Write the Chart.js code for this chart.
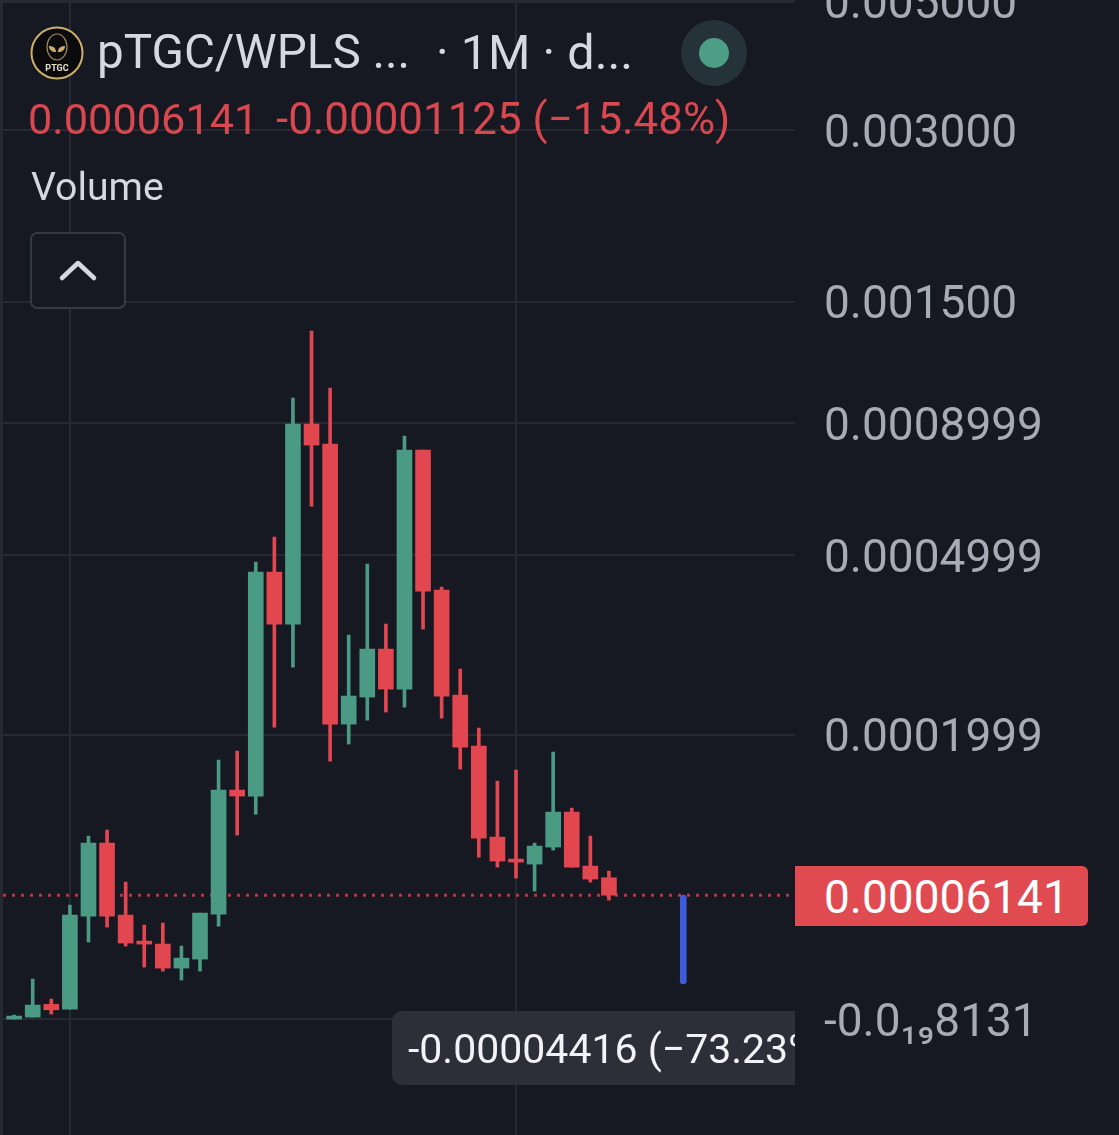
<!DOCTYPE html>
<html>
<head>
<meta charset="utf-8">
<script src="https://cdn.jsdelivr.net/npm/chart.js@4/dist/chart.umd.js"></script>
<style>
  html, body { margin: 0; padding: 0; background: #161822; }
  #wrap { position: relative; width: 1119px; height: 1135px; overflow: hidden; font-family: Roboto, sans-serif; }
  canvas { position: absolute; left: 0; top: 0; }
  .abs { position: absolute; white-space: pre; line-height: 1; }
</style>
</head>
<body>
<div id="wrap">
  <canvas id="chart" width="1119" height="1135"></canvas>
  <div class="abs" style="left:0;top:0;width:795px;height:3px;background:#262932"></div>
  <div class="abs" style="left:0;top:0;width:3px;height:1135px;background:#262932"></div>

  <svg class="abs" style="left:30px;top:26px" width="54" height="54" viewBox="0 0 54 54">
    <circle cx="27" cy="27" r="25.5" fill="#0b0b0d" stroke="#cdb06a" stroke-width="2"/>
    <ellipse cx="27" cy="21" rx="10" ry="13" fill="none" stroke="#9c8a5c" stroke-width="1.2"/>
    <path d="M19 20c4 0 7 2 7 6-4 0-7-2-7-6zM35 20c-4 0-7 2-7 6 4 0 7-2 7-6z" fill="#cdb06a"/>
    <text x="27" y="45" text-anchor="middle" font-family="Roboto" font-weight="700" font-size="9" fill="#e8e2cc">PTGC</text>
  </svg>
  <div class="abs" style="left:97px;top:29px;font-size:47.6px;color:#d5d8e2">pTGC/WPLS ...</div>
  <div class="abs" style="left:436px;top:29px;font-size:48.6px;color:#d5d8e2">· 1M · d...</div>
  <svg class="abs" style="left:681px;top:20px" width="66" height="66">
    <circle cx="33" cy="33" r="33" fill="#25323a"/>
    <circle cx="33" cy="33" r="15" fill="#4c9e85"/>
  </svg>
  <div class="abs" style="left:28px;top:98px;font-size:43.3px;color:#d9474f">0.00006141</div>
  <div class="abs" style="left:276px;top:98px;font-size:43.9px;color:#d9474f">-0.00001125 (−15.48%)</div>
  <div class="abs" style="left:31px;top:168px;font-size:39.2px;color:#d5d8e2">Volume</div>
  <div class="abs" style="left:30px;top:232px;width:92px;height:73px;border:2px solid #363a45;border-radius:7px;background:#161822"></div>
  <svg class="abs" style="left:58px;top:258px" width="40" height="24">
    <path d="M4 20 L20 5 L36 20" fill="none" stroke="#d5d8e2" stroke-width="4.5" stroke-linecap="round" stroke-linejoin="round"/>
  </svg>

  <div class="abs" style="left:795px;top:866px;width:293px;height:60px;background:#e04b52;border-radius:0 6px 6px 0"></div>
  <div class="abs" style="left:824px;top:874px;font-size:46px;color:#ffffff">0.00006141</div>
  <div class="abs" style="left:392px;top:1011px;width:403px;height:74px;background:#2c2e38;border-radius:10px 0 0 10px;overflow:hidden">
    <div class="abs" style="left:16px;top:18px;font-size:41px;color:#f2f3f6">-0.00004416 (−73.23%)</div>
  </div>
</div>
<script>
// monthly candles
const candleIndex = [0,1,2,3,4,5,6,7,8,9,10,11,12,13,14,15,16,17,18,19,20,21,22,23,24,25,26,27,28,29,30,31,32];
const opens = [0.00000001,0.00000078,0.00000585,0.00000394,0.00004888,0.00009739,0.00004946,0.00003517,0.00003362,0.00002178,0.00002609,0.00005004,0.00014228,0.00013672,0.00046250,0.00036011,0.00089652,0.00082239,0.00021265,0.00024701,0.00031774,0.00025791,0.00080124,0.00042471,0.00024970,0.00018717,0.00010202,0.00008556,0.00008201,0.00009437,0.00012251,0.00008061,0.00007266];
const highs = [0.00000156,0.00001671,0.00000804,0.00005535,0.00010281,0.00010758,0.00006979,0.00004380,0.00004491,0.00003259,0.00005062,0.00017204,0.00018166,0.00048462,0.00054392,0.00100176,0.00132735,0.00104523,0.00034097,0.00048013,0.00036011,0.00085134,0.00080124,0.00043079,0.00028667,0.00020784,0.00015083,0.00016172,0.00009739,0.00018058,0.00012598,0.00010281,0.00007716];
const lows = [0.00000001,0.00000078,0.00000195,0.00000394,0.00003465,0.00004269,0.00003259,0.00002225,0.00002038,0.00001626,0.00002038,0.00004323,0.00010360,0.00012080,0.00020904,0.00028967,0.00062587,0.00017099,0.00018939,0.00021750,0.00022746,0.00023387,0.00035132,0.00021998,0.00016274,0.00008701,0.00007991,0.00007242,0.00006398,0.00009213,0.00007991,0.00006979,0.00005838];
const closes = [0.00000117,0.00000556,0.00000366,0.00004946,0.00009739,0.00004888,0.00003414,0.00003362,0.00002178,0.00002658,0.00005062,0.00014228,0.00013672,0.00046250,0.00036011,0.00089652,0.00081878,0.00021265,0.00024837,0.00031774,0.00025791,0.00080124,0.00042268,0.00024837,0.00018605,0.00010125,0.00008415,0.00008343,0.00009513,0.00012251,0.00007991,0.00007177,0.00006141];

const lastPrice = 0.00006141;
const measureIndex = 36;
const measureEnd = 0.0000145;

const yTickValues = [0.005, 0.003, 0.0015, 0.0008999, 0.0004999, 0.0001999, -8.131e-20];
const yTickLabels = ['0.005000', '0.003000', '0.001500', '0.0008999', '0.0004999', '0.0001999', '-0.0₁₉8131'];
const xTickValues = [3, 27];

const upColor = '#4b9a84';
const downColor = '#e2474f';
const candleColors = opens.map((o, i) => closes[i] >= o ? upColor : downColor);

// the axis is a pseudo log one: log(1 + v / c), which also takes 0 and negatives
const SYM_C = 0.0001;
const sym = v => Math.sign(v) * Math.log1p(Math.abs(v) / SYM_C);

class SymlogScale extends Chart.LinearScale {
  getPixelForValue(value) {
    const lo = sym(this.min), hi = sym(this.max);
    return this.getPixelForDecimal((sym(value) - lo) / (hi - lo));
  }
  getValueForPixel(pixel) {
    const lo = sym(this.min), hi = sym(this.max);
    const s = lo + this.getDecimalForPixel(pixel) * (hi - lo);
    return Math.sign(s) * SYM_C * Math.expm1(Math.abs(s));
  }
  // labels sit a little under the grid line in the original
  _computeLabelItems(chartArea) {
    const items = super._computeLabelItems(chartArea);
    items.forEach(it => { it.options.translation[1] += 5; });
    return items;
  }
}
SymlogScale.id = 'symlog';
SymlogScale.defaults = Chart.LinearScale.defaults;
Chart.register(SymlogScale);

const ctx = document.getElementById('chart').getContext('2d');
new Chart(ctx, {
  type: 'bar',
  data: {
    datasets: [
      {
        type: 'line',
        data: [{ x: -0.76, y: lastPrice }, { x: 42.01, y: lastPrice }],
        borderColor: 'rgba(226,71,79,0.75)',
        borderWidth: 3,
        borderDash: [3, 6],
        borderDashOffset: -3,
        pointRadius: 0,
        order: 4
      },
      {
        // wicks
        data: candleIndex.map(i => ({ x: i, y: [lows[i], highs[i]] })),
        backgroundColor: candleColors,
        barThickness: 3,
        order: 3
      },
      {
        // bodies
        data: candleIndex.map(i => ({ x: i, y: [opens[i], closes[i]] })),
        backgroundColor: candleColors,
        barThickness: 15,
        order: 2
      },
      {
        // measure tool
        data: [{ x: measureIndex, y: [measureEnd, lastPrice] }],
        backgroundColor: '#3f5bdb',
        barThickness: 6,
        borderRadius: 3,
        order: 1
      }
    ]
  },
  options: {
    responsive: false,
    animation: false,
    layout: { padding: 0 },
    datasets: { bar: { grouped: false, borderWidth: 0, borderSkipped: false } },
    plugins: { legend: { display: false }, tooltip: { enabled: false } },
    scales: {
      x: {
        type: 'linear',
        offset: false,
        min: -0.76,
        max: 42.01,
        border: { display: false },
        grid: { offset: false, color: '#262932', lineWidth: 2, drawTicks: false },
        ticks: { display: false },
        afterBuildTicks: s => { s.ticks = xTickValues.map(v => ({ value: v })); },
        afterFit: s => { s.height = 0; }
      },
      y: {
        type: 'symlog',
        position: 'right',
        min: -0.0000565,
        max: 0.00503,
        border: { display: false },
        grid: { color: '#262932', lineWidth: 2, drawTicks: false },
        ticks: {
          autoSkip: false,
          padding: 29,
          crossAlign: 'near',
          color: '#a7abb5',
          font: { family: 'Roboto', size: 46 },
          callback: (v, i) => yTickLabels[i]
        },
        afterBuildTicks: s => { s.ticks = yTickValues.map(v => ({ value: v })); },
        afterFit: s => { s.width = 324; s.paddingTop = 0; s.paddingBottom = 0; }
      }
    }
  }
});
</script>
</body>
</html>
